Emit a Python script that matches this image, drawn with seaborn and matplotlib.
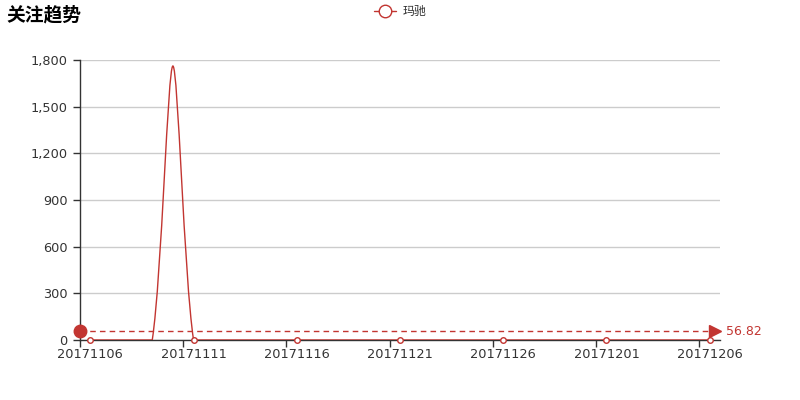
import numpy as np
import pandas as pd
import matplotlib
matplotlib.use('Agg')
import matplotlib.pyplot as plt
from matplotlib.path import Path
from matplotlib.patches import PathPatch
from matplotlib.lines import Line2D
from matplotlib.ticker import FuncFormatter
import seaborn as sns

# data
dates = ['201711%02d' % d for d in range(6, 31)] + ['201712%02d' % d for d in range(1, 7)]
values = [0, 0, 0, 0, 1761.4, 0, 0, 0, 0, 0,
          0, 0, 0, 0, 0, 0, 0, 0, 0, 0,
          0, 0, 0, 0, 0, 0, 0, 0, 0, 0, 0]
series_name = '玛驰'
title = '关注趋势'
y_ticks = [0, 300, 600, 900, 1200, 1500, 1800]

red = '#c23531'
txt = '#333333'

sns.set_theme(style='white')
plt.rcParams['font.family'] = ['DejaVu Sans', 'Noto Sans CJK SC']

df = pd.DataFrame({'date': dates, 'value': values})
df['idx'] = np.arange(len(df))

fig = plt.figure(figsize=(8, 4), dpi=100)
ax = fig.add_axes([0.1, 0.15, 0.8, 0.7])
ax.set_xlim(-0.5, len(df) - 0.5)
ax.set_ylim(0, 1800)

# smooth line, echarts style bezier computed in pixel space
pts = ax.transData.transform(np.column_stack([df.idx, df.value]))
smooth = 0.25
lo = pts.min(axis=0)
hi = pts.max(axis=0)
cps = []
for i in range(len(pts)):
    p = pts[i]
    if i == 0 or i == len(pts) - 1:
        cps.append((p.copy(), p.copy()))
        continue
    v = pts[i + 1] - pts[i - 1]
    d0 = np.hypot(*(p - pts[i - 1]))
    d1 = np.hypot(*(p - pts[i + 1]))
    s = d0 + d1
    d0, d1 = d0 / s, d1 / s
    c0 = np.clip(p - v * d0 * smooth, lo, hi)
    c1 = np.clip(p + v * d1 * smooth, lo, hi)
    cps.append((c0, c1))
verts = [pts[0]]
codes = [Path.MOVETO]
for i in range(len(pts) - 1):
    verts += [cps[i][1], cps[i + 1][0], pts[i + 1]]
    codes += [Path.CURVE4] * 3
verts = ax.transData.inverted().transform(np.array(verts))
ax.add_patch(PathPatch(Path(verts, codes), fill=False, edgecolor=red, lw=1, zorder=3))

# symbols at labelled categories
sns.scatterplot(data=df[df.idx % 5 == 0], x='idx', y='value', ax=ax, s=16,
                color='white', edgecolor=red, linewidth=1, zorder=4, clip_on=False)

# average mark line
mean = np.mean(values)
ax.plot([-0.5, len(df) - 0.5], [mean, mean], color=red, lw=1, ls=(0, (4, 3)), zorder=3, clip_on=False)
ax.plot([-0.5], [mean], marker='o', ms=9, color=red, mec=red, zorder=5, clip_on=False)
ax.plot([len(df) - 0.75], [mean], marker='>', ms=9, color=red, mec=red, zorder=5, clip_on=False)
ax.annotate('%.2f' % mean, (len(df) - 0.5, mean), xytext=(4, 0), textcoords='offset points',
            color=red, fontsize=9, va='center', ha='left', annotation_clip=False)

# axes styling
ax.set_yticks(y_ticks)
ax.yaxis.set_major_formatter(FuncFormatter(lambda v, p: '{:,.0f}'.format(v)))
ax.set_xticks(df.idx[::5])
ax.set_xticklabels(df.date[::5])
ax.set_xticks(np.arange(-0.5, len(df), 5), minor=True)
ax.tick_params(axis='x', which='major', length=0, pad=6, labelsize=9.3, colors=txt)
ax.tick_params(axis='x', which='minor', length=5, width=1, color=txt, direction='out', bottom=True)
ax.tick_params(axis='y', length=5, width=1, color=txt, direction='out', left=True, labelsize=9.3,
               labelcolor=txt, pad=4)
ax.grid(axis='y', color='#cccccc', lw=1)
ax.grid(axis='x', visible=False)
for side in ['top', 'right']:
    ax.spines[side].set_visible(False)
for side in ['left', 'bottom']:
    ax.spines[side].set_color(txt)
    ax.spines[side].set_linewidth(1)
ax.set_xlabel('')
ax.set_ylabel('')
ax.set_axisbelow(True)

fig.text(0.008, 0.963, title, fontsize=13.5, fontweight='bold', color='black', va='center', ha='left',
         family=['Noto Sans CJK SC', 'DejaVu Sans'])

handle = Line2D([], [], color=red, lw=1, marker='o', ms=9, mfc='white', mec=red)
fig.legend([handle], [series_name], loc='center', bbox_to_anchor=(0.5, 0.972), frameon=False,
           handlelength=1.9, handletextpad=0.5, prop={'family': ['Noto Sans CJK SC', 'DejaVu Sans'], 'size': 8.6},
           labelcolor=txt)

fig.savefig('out.png', dpi=100)
